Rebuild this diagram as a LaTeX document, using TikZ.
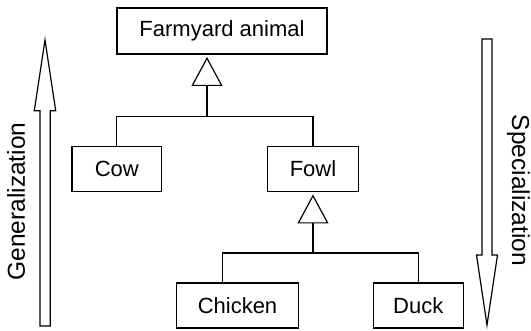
\documentclass[tikz,border=0pt]{standalone}
\usepackage{fontspec}
\setmainfont{Liberation Sans}
\usetikzlibrary{arrows.meta}

\begin{document}
\begin{tikzpicture}[x=0.5pt, y=-0.5pt, line width=0.6pt,
    every node/.style={font=\fontsize{11}{13}\selectfont},
    box/.style={draw, minimum height=22.5pt, inner sep=0pt},
    isa/.style={-{Triangle[open, length=14.5pt, width=15.5pt]}, shorten >=1.2pt},
    bigarrow/.style={draw, line join=miter},
    sidelabel/.style={font=\fontsize{12.25}{14}\selectfont, anchor=base}]
  \useasboundingbox (0,0) rectangle (531,331);

  \node[box, minimum width=105pt, minimum height=23pt] (animal) at (222,31) {Farmyard animal};
  \node[box, minimum width=44.75pt] (cow) at (116.8,169) {Cow};
  \node[box, minimum width=45.5pt] (fowl) at (313,169) {Fowl};
  \node[box, minimum width=60.8pt] (chicken) at (237.5,305.5) {Chicken};
  \node[box, minimum width=45pt] (duck) at (418.3,305.5) {Duck};

  \coordinate (j1) at (207,116.5);
  \coordinate (j2) at (313,253);
  \draw (cow.north) |- (j1) -| (fowl.north);
  \draw[isa] (j1) -- (j1 |- animal.south);
  \draw ([xshift=23pt]chicken.north west) |- (j2) -| (duck.north);
  \draw[isa] (j2) -- (fowl.south);

  \draw[bigarrow] (40,326) -- (40,110.7) -- (34.3,110.7) -- (45,40)
    -- (55.7,110.7) -- (50.3,110.7) -- (50.3,326) -- cycle;
  \draw[bigarrow] (482,39) -- (482,255) -- (476.5,255) -- (487,325)
    -- (497.5,255) -- (492,255) -- (492,39) -- cycle;

  \node[sidelabel, rotate=90] (gen) at (25,201.5) {Generalization};
  \node[sidelabel, rotate=-90] (spec) at (512,190.5) {Specialization};
\end{tikzpicture}
\end{document}
